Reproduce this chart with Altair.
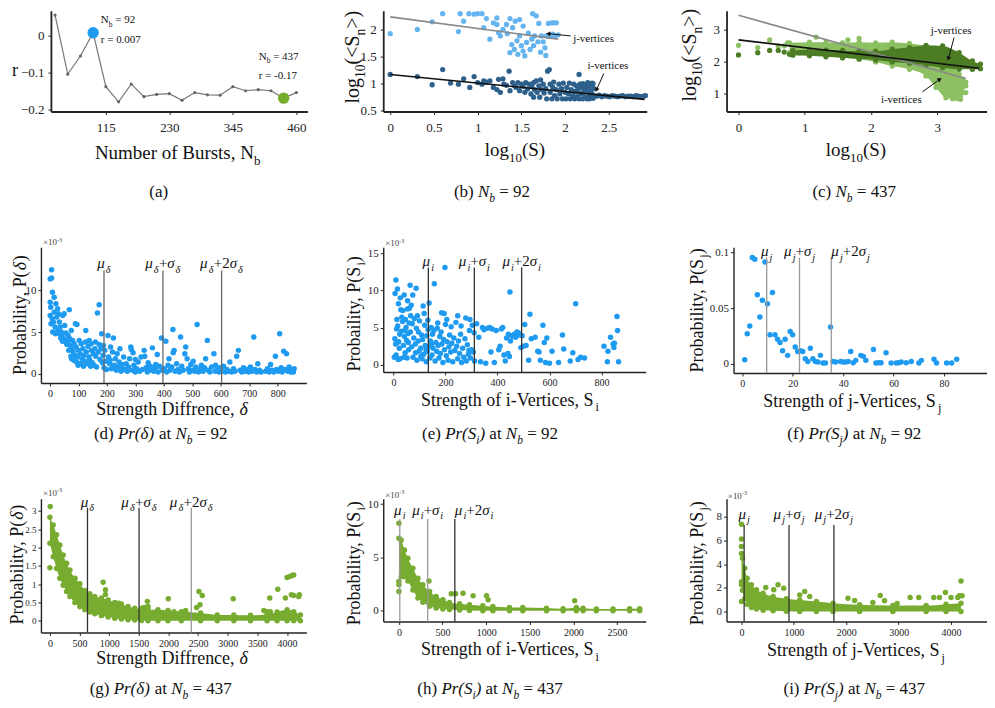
import math
import altair as alt
import pandas as pd

FONT = "Liberation Serif"
BLUE = "#1E9BF0"
GREEN = "#77AC30"
B_LIGHT = "#64B4F0"
B_DARK = "#2E608C"
G_LIGHT = "#8CC063"
G_DARK = "#4C7C23"

# ===================== DATA =====================
# (a) correlation r versus number of bursts
a_nb = [23, 46, 69, 92, 115, 138, 161, 184, 207, 230, 253, 276, 299, 322, 345, 368, 391, 414, 437, 460]
a_r = [0.055, -0.105, -0.056, 0.007, -0.139, -0.180, -0.132, -0.166, -0.160, -0.158,
       -0.176, -0.155, -0.161, -0.162, -0.139, -0.150, -0.147, -0.150, -0.170, -0.155]
a_hl_nb = [92, 437]
a_hl_r = [0.007, -0.17]

# (b) log10(<S_n>) vs log10(S), N_b = 92
b_j_pts = [(0, 1.92), (0.31, 2.0), (0.6, 2.29), (0.8, 2.29), (0.48, 2.14), (0.78, 1.96), (0.84, 2.15), (0.9, 2.29),
           (0.96, 2.28), (1.0, 2.29), (1.05, 2.29), (1.1, 2.2), (1.07, 2.03), (1.14, 1.82), (1.18, 2.12), (1.22, 2.09),
           (1.24, 1.94), (1.26, 1.88), (1.29, 2.0), (1.34, 1.92), (1.37, 2.2), (1.4, 2.03), (1.43, 2.15), (1.39, 1.72),
           (1.37, 1.57), (1.42, 1.63), (1.45, 1.79), (1.46, 1.54), (1.48, 1.88), (1.5, 1.7), (1.52, 1.6), (1.54, 1.51),
           (1.56, 1.76), (1.58, 1.93), (1.6, 1.63), (1.62, 1.82), (1.64, 1.7), (1.65, 1.88), (1.52, 2.06), (1.48, 2.18),
           (1.63, 2.29), (1.67, 2.25), (1.7, 2.11), (1.69, 1.77), (1.72, 1.58), (1.75, 1.77), (1.77, 1.66), (1.78, 1.52),
           (1.73, 1.88), (1.79, 1.88), (1.81, 2.11), (1.85, 2.12), (1.87, 2.12), (1.9, 2.12), (1.83, 1.88), (1.86, 1.91),
           (1.89, 1.88), (1.92, 1.9), (1.33, 2.09), (1.22, 2.21)]
b_i_pts = [(0, 1.17), (0.31, 1.13), (0.48, 0.98), (0.6, 1.26), (0.69, 1.01), (0.78, 0.99), (0.84, 1.09), (0.91, 0.93),
           (0.96, 1.13), (1.0, 1.02), (1.05, 0.99), (1.07, 1.05), (1.1, 1.03), (1.14, 1.05), (1.18, 0.93), (1.22, 0.89),
           (1.24, 1.08), (1.26, 0.84), (1.29, 1.09), (1.3, 0.99), (1.33, 0.97), (1.36, 1.23), (1.37, 0.87), (1.4, 1.02),
           (1.42, 0.96), (1.44, 0.93), (1.46, 1.02), (1.48, 0.87), (1.5, 0.99), (1.52, 0.95), (1.54, 0.84), (1.55, 1.02),
           (1.57, 0.9), (1.59, 0.99), (1.61, 0.81), (1.62, 0.96), (1.64, 0.75), (1.64, 1.02), (1.65, 0.89), (1.67, 1.05),
           (1.68, 0.84), (1.7, 0.96), (1.71, 0.75), (1.72, 1.07), (1.73, 0.89), (1.75, 0.99), (1.76, 0.83), (1.78, 0.91),
           (1.79, 0.72), (1.8, 1.23), (1.82, 1.26), (1.83, 0.99), (1.83, 0.84), (1.85, 0.72), (1.86, 0.93), (1.87, 1.03),
           (1.88, 0.78), (1.9, 0.89), (1.91, 0.72), (1.93, 0.99), (1.94, 0.81), (1.96, 0.91), (1.97, 0.72), (1.98, 1.01),
           (2.0, 0.84), (2.01, 0.72), (2.02, 0.93), (2.04, 0.81), (2.05, 1.01), (2.06, 0.72), (2.07, 0.89), (2.09, 0.78),
           (2.1, 0.99), (2.11, 0.72), (2.12, 0.86), (2.13, 0.96), (2.14, 0.76), (2.15, 0.89), (2.16, 0.72), (2.17, 0.99),
           (2.18, 0.81), (2.19, 0.93), (2.2, 0.72), (2.21, 0.84), (2.21, 0.96), (2.23, 0.75), (2.23, 0.89), (2.24, 0.99),
           (2.25, 0.72), (2.25, 0.86), (2.26, 0.93), (2.26, 1.02), (2.28, 0.78), (2.28, 0.72), (2.29, 0.87), (2.3, 0.96),
           (2.31, 1.01), (2.31, 0.81), (2.32, 0.73), (2.33, 0.91), (2.16, 1.17), (2.2, 1.0), (2.3, 0.99), (2.32, 1.0),
           (2.36, 0.77), (2.39, 0.79), (2.42, 0.76), (2.45, 0.78), (2.48, 0.77), (2.51, 0.76), (2.54, 0.78), (2.57, 0.77),
           (2.6, 0.76), (2.63, 0.77), (2.66, 0.78), (2.69, 0.76), (2.72, 0.77), (2.75, 0.77), (2.78, 0.76), (2.81, 0.78),
           (2.84, 0.77), (2.87, 0.76), (2.9, 0.77), (2.92, 0.78)]
b_fit_j = [(0.0, 2.23), (1.92, 1.82)]
b_fit_i = [(0.0, 1.17), (2.91, 0.71)]

# (c) N_b = 437 ; dense clouds given as (x, upper, lower) envelopes plus loose points
c_i_band = [(0.77, 2.58, 2.27), (1.07, 2.6, 2.22), (1.32, 2.6, 2.17), (1.57, 2.58, 2.11), (1.82, 2.6, 2.06),
            (2.07, 2.58, 1.98), (2.32, 2.6, 1.85), (2.58, 2.56, 1.75), (2.83, 2.48, 1.54), (2.98, 2.38, 1.18),
            (3.13, 2.17, 0.86), (3.23, 1.91, 0.83), (3.33, 1.59, 0.83), (3.38, 1.44, 1.02), (3.43, 1.35, 1.23)]
c_i_pts = [(0, 2.5), (0.29, 2.43), (0.47, 2.67), (0.6, 2.48), (0.69, 2.48), (0.74, 2.58), (0.87, 2.5), (1.17, 2.76),
           (1.65, 2.67), (1.82, 2.72), (3.18, 1.31), (3.23, 0.92), (3.28, 0.84), (3.35, 0.92), (3.35, 0.81), (3.43, 1.02)]
c_j_band = [(0.82, 2.34, 2.19), (1.07, 2.35, 2.17), (1.32, 2.35, 2.14), (1.57, 2.34, 2.11), (1.82, 2.32, 2.08),
            (2.07, 2.32, 2.04), (2.32, 2.38, 1.98), (2.58, 2.43, 1.94), (2.83, 2.5, 1.88), (3.08, 2.48, 1.8),
            (3.33, 2.27, 1.75), (3.53, 2.01, 1.75), (3.65, 1.91, 1.77)]
c_j_pts = [(0, 2.2), (0.29, 2.27), (0.47, 2.34), (0.6, 2.34), (0.69, 2.29), (0.77, 2.22), (0.92, 2.27)]
c_fit_gray = [(0.0, 3.44), (3.43, 1.46)]
c_fit_black = [(0.0, 2.67), (3.63, 1.78)]

# (d) P(delta) x10^-3, N_b = 92
d_pts = [(1, 11.4), (6, 12.5), (6, 11.5), (9, 9.8), (15, 9.2), (1, 8.6), (21, 8.4), (3, 8.0), (27, 7.8), (15, 7.4),
         (1, 7.0), (8, 6.6), (12, 6.2), (4, 6.0), (18, 5.6), (24, 6.8), (28, 5.2), (10, 5.0), (20, 4.8), (30, 7.2),
         (33, 6.2), (36, 5.6), (40, 5.0), (42, 4.6), (45, 7.0), (48, 4.2), (50, 7.2), (52, 5.8), (55, 4.0), (58, 3.7),
         (38, 4.3), (44, 3.9), (56, 4.9), (60, 3.5), (35, 4.8), (64, 4.6), (68, 7.7), (70, 4.2), (72, 3.4), (75, 5.2),
         (78, 3.0), (80, 4.0), (82, 2.6), (85, 3.6), (88, 2.2), (90, 6.0), (92, 3.2), (95, 5.9), (97, 2.0), (100, 2.8),
         (66, 2.8), (74, 2.1), (84, 1.6), (94, 1.4), (99, 1.0), (62, 3.9), (76, 1.8), (103, 4.0), (106, 2.4), (110, 3.6),
         (113, 1.8), (116, 3.0), (120, 2.2), (123, 1.5), (126, 5.2), (128, 2.6), (131, 1.2), (134, 3.3), (137, 2.0),
         (140, 1.6), (143, 0.9), (146, 2.8), (149, 1.3), (108, 1.2), (118, 0.9), (138, 4.0), (125, 3.8), (145, 3.6),
         (152, 2.4), (155, 1.0), (158, 3.0), (161, 2.1), (164, 0.8), (167, 7.3), (170, 2.6), (173, 8.3), (173, 3.5),
         (176, 1.7), (179, 3.0), (182, 4.8), (184, 1.3), (187, 2.2), (190, 0.7), (193, 2.8), (196, 1.5), (199, 0.5),
         (160, 3.8), (188, 3.4), (204, 4.6), (206, 2.0), (210, 1.2), (213, 3.2), (216, 0.6), (220, 2.6), (223, 4.3),
         (226, 1.0), (230, 1.8), (233, 0.4), (236, 2.4), (240, 0.8), (243, 1.4), (246, 3.0), (250, 0.3), (253, 1.1),
         (256, 0.6), (259, 2.0), (212, 1.6), (228, 0.9), (264, 0.5), (268, 1.2), (272, 0.3), (276, 0.8), (280, 1.8),
         (284, 3.2), (286, 2.9), (290, 0.4), (295, 1.0), (300, 0.2), (305, 0.6), (310, 1.4), (315, 0.3), (320, 2.0),
         (325, 0.5), (331, 2.8), (333, 2.1), (338, 0.7), (342, 0.2), (348, 1.0), (352, 0.4), (356, 0.8), (360, 3.1),
         (365, 0.3), (370, 0.6), (377, 2.3), (380, 0.2), (385, 0.9), (392, 4.3), (395, 0.4), (300, 1.7), (292, 2.5),
         (345, 1.3), (372, 1.1), (402, 0.6), (407, 3.9), (410, 0.2), (415, 1.0), (418, 1.8), (422, 0.4), (428, 0.8),
         (432, 5.3), (433, 2.5), (436, 2.8), (440, 0.3), (445, 1.2), (450, 0.5), (455, 0.2), (459, 4.4), (463, 0.9),
         (468, 0.4), (474, 2.4), (477, 3.2), (482, 1.8), (486, 0.6), (490, 0.2), (495, 1.1), (500, 0.4), (503, 1.5),
         (508, 0.3), (512, 0.8), (517, 5.9), (522, 0.2), (527, 0.6), (532, 1.0), (538, 0.3), (543, 0.7), (547, 1.8),
         (553, 4.0), (556, 0.4), (562, 0.2), (568, 0.8), (576, 2.4), (580, 0.3), (582, 1.0), (588, 0.5), (594, 0.2),
         (598, 0.7), (604, 0.3), (610, 0.9), (616, 0.2), (622, 0.5), (628, 0.3), (632, 1.4), (638, 0.2), (645, 0.6),
         (650, 0.3), (656, 2.1), (662, 2.8), (668, 0.4), (674, 0.2), (680, 0.7), (686, 0.3), (692, 0.5), (698, 0.2),
         (704, 0.8), (710, 0.3), (716, 4.4), (720, 0.5), (726, 0.2), (730, 1.2), (736, 0.4), (742, 0.2), (758, 0.3),
         (764, 0.6), (770, 0.2), (775, 1.1), (780, 0.4), (786, 0.2), (792, 2.1), (796, 0.5), (802, 0.3), (807, 4.8),
         (812, 0.7), (816, 0.2), (821, 2.7), (825, 0.5), (831, 2.4), (836, 0.3), (840, 0.8), (846, 0.2), (850, 0.5),
         (855, 0.2), (858, 0.6)]
d_mu = [190, 397, 603]

# (e) P(S_i) x10^-3, N_b = 92
e_pts = [(6, 9.6), (9, 11.4), (15, 10.2), (19, 8.2), (26, 9.0), (13, 6.1), (32, 6.4), (28, 7.4), (41, 9.4), (54, 8.6),
         (54, 7.5), (61, 7.6), (5, 3.5), (8, 2.8), (10, 1.3), (12, 4.8), (16, 5.2), (20, 3.1), (22, 2.2), (25, 0.8),
         (30, 4.5), (35, 5.8), (38, 2.6), (42, 3.8), (45, 1.6), (48, 5.0), (50, 3.3), (52, 0.9), (56, 4.2), (58, 2.0),
         (3, 1.0), (18, 0.7), (40, 1.0), (60, 5.6), (46, 6.1), (36, 7.3), (24, 4.1), (14, 3.0), (44, 4.6), (57, 3.0),
         (64, 10.7), (68, 8.0), (74, 9.4), (87, 10.3), (92, 6.6), (114, 7.9), (118, 6.9), (137, 8.3), (65, 4.4),
         (70, 2.4), (72, 5.5), (75, 1.0), (78, 3.6), (80, 6.2), (84, 2.8), (88, 4.9), (90, 0.6), (95, 3.2), (98, 1.8),
         (100, 5.9), (104, 2.2), (108, 4.0), (110, 0.8), (112, 3.4), (116, 1.4), (120, 5.3), (122, 2.6), (126, 0.4),
         (128, 3.9), (130, 1.8), (133, 4.7), (136, 2.4), (140, 0.9), (142, 3.2), (145, 5.0), (148, 1.3), (85, 1.6),
         (105, 1.1), (125, 2.0), (146, 2.8), (66, 6.6), (96, 4.4), (132, 6.0), (150, 4.1), (157, 10.9), (198, 13.1),
         (195, 6.9), (247, 6.6), (294, 6.1), (152, 2.2), (155, 4.6), (160, 0.5), (163, 3.0), (166, 1.8), (170, 5.6),
         (172, 2.6), (175, 0.9), (178, 3.8), (180, 1.5), (183, 4.4), (186, 2.8), (190, 0.3), (193, 3.4), (196, 2.0),
         (200, 5.4), (203, 1.2), (206, 3.1), (210, 0.6), (213, 2.4), (216, 4.0), (220, 1.7), (224, 2.9), (228, 0.4),
         (232, 3.6), (236, 1.9), (240, 5.7), (243, 2.5), (247, 0.8), (250, 3.2), (254, 1.5), (258, 4.1), (262, 0.3),
         (266, 2.2), (270, 1.0), (275, 3.5), (280, 0.5), (284, 2.7), (288, 1.4), (292, 4.6), (296, 0.9), (300, 2.0),
         (185, 7.0), (205, 6.1), (168, 4.9), (222, 5.1), (260, 5.2), (278, 6.3), (290, 1.9), (303, 5.3), (307, 1.7),
         (312, 0.5), (320, 5.5), (328, 3.7), (335, 0.4), (342, 5.0), (348, 4.7), (355, 0.2), (362, 4.9), (370, 5.0),
         (375, 1.7), (380, 4.8), (388, 0.3), (395, 4.6), (405, 2.0), (410, 2.5), (415, 4.8), (420, 5.0), (425, 1.3),
         (430, 0.5), (435, 3.6), (448, 9.8), (442, 4.1), (446, 1.1), (450, 3.2), (455, 3.9), (460, 3.8), (465, 4.1),
         (470, 3.7), (475, 4.4), (480, 4.3), (485, 4.0), (490, 2.3), (495, 3.9), (500, 2.5), (310, 4.3), (440, 1.5),
         (505, 5.4), (510, 2.6), (520, 0.6), (525, 6.8), (530, 3.5), (545, 3.7), (555, 1.8), (560, 1.7), (565, 0.6),
         (575, 5.3), (580, 3.0), (585, 0.3), (590, 3.6), (600, 0.2), (610, 1.8), (635, 0.3), (650, 4.0), (655, 2.1),
         (680, 0.5), (690, 1.6), (701, 8.2), (710, 0.7), (720, 1.0), (735, 0.9), (810, 2.5), (823, 0.4), (825, 1.8),
         (835, 3.7), (845, 2.8), (848, 2.3), (850, 2.9), (860, 6.5), (862, 4.6), (866, 0.4)]
e_mu = [134, 311, 493]

# (f) P(S_j), N_b = 92
f_pts = [(1, 0.0036), (2, 0.027), (3, 0.034), (4, 0.0955), (5, 0.094), (6, 0.062), (7, 0.042), (8, 0.057),
         (9, 0.0916), (10, 0.054), (11, 0.026), (12, 0.064), (13, 0.026), (14, 0.022), (15, 0.019), (16, 0.0116),
         (17, 0.022), (18, 0.0075), (19, 0.029), (20, 0.026), (21, 0.015), (22, 0.011), (23, 0.0116), (24, 0.011),
         (25, 0.0045), (26, 0.002), (27, 0.014), (28, 0.0045), (29, 0.002), (30, 0.0015), (31, 0.0075), (32, 0.0006),
         (33, 0.0006), (35, 0.033), (36, 0.002), (37, 0.0015), (39, 0.002), (40, 0.0015), (41, 0.0015), (42, 0.002),
         (43, 0.011), (44, 0.0009), (45, 0.003), (47, 0.0075), (48, 0.0066), (49, 0.003), (52, 0.0128), (53, 0.0006),
         (54, 0.0009), (55, 0.0009), (57, 0.0099), (59, 0.0006), (61, 0.0006), (62, 0.0009), (63, 0.0015),
         (65, 0.0009), (67, 0.002), (70, 0.0006), (71, 0.003), (76, 0.004), (77, 0.0006), (81, 0.0006), (83, 0.0006),
         (85, 0.004)]
f_mu = [9.7, 22.7, 35.3]

# (g) P(delta) x10^-3, N_b = 437 : dense band (x, upper, lower) plus loose points
g_band = [(0, 2.83, 2.12), (56, 2.62, 1.75), (112, 2.35, 1.43), (168, 2.07, 1.16), (224, 1.80, 0.97), (281, 1.57, 0.80),
          (337, 1.39, 0.66), (421, 1.16, 0.50), (505, 1.01, 0.38), (589, 0.83, 0.30), (673, 0.74, 0.24),
          (757, 0.66, 0.19), (870, 0.62, 0.14), (982, 0.57, 0.10), (1094, 0.50, 0.07), (1206, 0.46, 0.05),
          (1318, 0.39, 0.03), (1431, 0.34, 0.02), (1543, 0.32, 0.01), (1655, 0.30, 0.0), (1823, 0.30, 0.0),
          (1992, 0.28, 0.0), (2216, 0.25, 0.0), (2542, 0.21, 0.0), (2823, 0.16, 0.0), (3103, 0.16, 0.0),
          (3384, 0.15, 0.0), (3664, 0.18, 0.0), (3833, 0.24, 0.0), (4001, 0.30, 0.0), (4113, 0.25, 0.0),
          (4226, 0.16, 0.0)]
g_pts = [(5, 3.12), (0, 1.45), (140, 2.07), (421, 1.15), (898, 1.05), (937, 0.85), (937, 0.72), (1161, 0.48),
         (1560, 0.35), (1599, 0.36), (1644, 0.53), (1655, 0.39), (1998, 0.6), (2093, 0.25), (2290, 0.28),
         (2475, 0.36), (2514, 0.8), (2531, 0.44), (2570, 0.69), (3092, 0.6), (3608, 0.28), (3664, 0.25),
         (3709, 0.62), (3720, 0.25), (3844, 0.86), (3973, 0.62), (4001, 1.18), (4046, 1.21), (4085, 1.24),
         (4113, 1.25), (4074, 0.71), (4113, 0.69), (4197, 0.66), (4208, 0.71)]
g_mu = [634, 1504, 2385]

# (h) P(S_i) x10^-3, N_b = 437
h_band = [(0, 6.79, 2.74), (26, 6.63, 3.2), (64, 5.7, 3.2), (103, 4.92, 2.8), (160, 3.98, 1.95), (218, 3.05, 1.2),
          (275, 2.43, 0.8), (351, 1.8, 0.42), (427, 1.34, 0.25), (504, 1.03, 0.16), (580, 0.78, 0.12),
          (695, 0.65, 0.08), (809, 0.56, 0.03), (962, 0.47, 0.0), (1077, 0.4, 0.0), (1268, 0.31, 0.0),
          (1420, 0.31, 0.0), (1691, 0.25, 0.0), (1882, 0.19, 0.0), (2034, 0.31, 0.0), (2111, 0.25, 0.0),
          (2263, 0.16, 0.0), (2454, 0.16, 0.0), (2645, 0.19, 0.0), (2760, 0.2, 0.0)]
h_pts = [(0, 8.2), (0, 2.43), (0, 1.8), (344, 2.8), (600, 1.6), (650, 1.6), (735, 1.65), (850, 1.4), (1004, 1.4),
         (1023, 1.03), (2015, 0.93)]
h_mu = [10, 330, 641]

# (i) P(S_j) x10^-3, N_b = 437
i_band = [(0, 4.9, 2.5), (19, 4.5, 1.8), (63, 3.65, 1.1), (108, 2.8, 0.6), (190, 2.25, 0.34), (286, 1.83, 0.2),
          (413, 1.54, 0.1), (603, 1.26, 0.06), (857, 1.07, 0.02), (1111, 0.96, 0.0), (1429, 0.84, 0.0),
          (1746, 0.7, 0.0), (2254, 0.56, 0.0), (2889, 0.5, 0.0), (3524, 0.5, 0.0), (3905, 0.62, 0.0), (4190, 0.7, 0.0)]
i_pts = [(0, 7.36), (0, 6.12), (0, 5.48), (0, 0.84), (0, 2.25), (463, 2.02), (616, 1.83), (698, 2.25), (806, 1.97),
         (1111, 1.4), (1206, 1.69), (1302, 1.26), (2032, 1.12), (2159, 0.93), (2508, 0.76), (2648, 1.35),
         (2730, 0.9), (2971, 0.67), (3219, 1.18), (3384, 1.18), (3670, 1.18), (3778, 1.18), (3892, 1.6),
         (4000, 1.18), (4127, 1.18), (4159, 1.32), (4190, 2.58), (4210, 1.32)]
i_mu = [50, 907, 1764]

# ===================== HELPERS =====================
WN = {' ': 250, '(': 333, ')': 333, '+': 564, ',': 250, '-': 333, '.': 250, '=': 564, '<': 564, '>': 564,
      '×': 564, 'A': 722, 'B': 667, 'D': 722, 'N': 722, 'P': 556, 'S': 556, 'V': 722, 'a': 444, 'b': 500,
      'c': 444, 'd': 500, 'e': 444, 'f': 333, 'g': 500, 'h': 500, 'i': 278, 'j': 278, 'l': 278, 'm': 778,
      'n': 500, 'o': 500, 'p': 500, 'r': 333, 's': 389, 't': 278, 'u': 500, 'v': 500, 'x': 500, 'y': 500,
      'δ': 500, 'μ': 576, 'σ': 550}
WI = {'N': 667, 'P': 611, 'r': 389, 'S': 500, 'b': 500, 'i': 278, 'j': 278}


def text_w(s, fs, it):
    return sum((WI[ch] if (it and ch in WI) else WN.get(ch, 500)) for ch in s) * fs / 1000.0


def rich(segs, x, y, size, anchor="middle", angle=0, color="#111111"):
    parts = []
    for t, k in segs:
        fs = size * 0.68 if k in ("s", "si", "p") else size
        it = k in ("i", "si")
        parts.append((t, k, fs, it, text_w(t, fs, it)))
    total = sum(p[4] for p in parts)
    adv = {"start": 0.0, "middle": -total / 2.0, "end": -total}[anchor]
    rows = []
    for t, k, fs, it, w in parts:
        off = 0.3 * size if k in ("s", "si") else (-0.4 * size if k == "p" else 0.0)
        lead = len(t) - len(t.lstrip(" "))
        a = adv + text_w(" " * lead, fs, it)
        if angle == 0:
            px, py = x + a, y + off
        else:
            px, py = x + off, y - a
        if t.strip(" "):
            rows.append({"t": t.strip(" "), "px": px, "py": py, "fs": fs, "it": 1 if it else 0,
                         "ang": angle, "col": color})
        adv += w
    return rows


def text_layers(rows):
    df = pd.DataFrame(rows)
    out = []
    for it, style in ((0, "normal"), (1, "italic")):
        sub = df[df["it"] == it]
        if len(sub):
            out.append(alt.Chart(sub).mark_text(align="left", baseline="alphabetic", font=FONT, fontStyle=style).encode(
                x=alt.X("px:Q", scale=None), y=alt.Y("py:Q", scale=None),
                text=alt.Text("t:N"), size=alt.Size("fs:Q", scale=None, legend=None),
                angle=alt.Angle("ang:Q", scale=None), color=alt.Color("col:N", scale=None, legend=None)))
    return out


def make_axis(vals, fs, pad, dw, offset=None):
    kw = dict(values=vals, format="~f", title=None, grid=False, labelFont=FONT, labelFontSize=fs,
              labelPadding=pad, labelColor="#222", domainColor="#222", domainWidth=dw, tickColor="#222",
              tickSize=3, labelFlush=False, labelOverlap=False)
    if offset is not None:
        kw["offset"] = offset
    return alt.Axis(**kw)


def scale(dom, rng=None):
    if rng:
        return alt.Scale(domain=dom, range=rng, nice=False, zero=False)
    return alt.Scale(domain=dom, nice=False, zero=False)


def XE(field, P):
    return alt.X(field + ":Q", scale=scale(P["xd"], P.get("xr")),
                 axis=make_axis(P["xt"], P["xfs"], P["xpad"], P["dw"]))


def YE(field, P):
    return alt.Y(field + ":Q", scale=scale(P["yd"]),
                 axis=make_axis(P["yt"], P["yfs"], P["ypad"], P["dw"], P.get("yoff")))


def px_of(v, P):
    r0, r1 = P.get("xr") or [0, P["W"]]
    d0, d1 = P["xd"]
    return r0 + (v - d0) / (d1 - d0) * (r1 - r0)


def scatter(pts, color, size, P):
    df = pd.DataFrame(pts, columns=["x", "y"])
    return alt.Chart(df).mark_circle(size=size, color=color, opacity=1).encode(x=XE("x", P), y=YE("y", P))


def band(triples, color, size, P):
    df = pd.DataFrame(triples, columns=["x", "hi", "lo"])
    area = alt.Chart(df).mark_area(color=color, opacity=1, interpolate="monotone").encode(
        x=XE("x", P), y=YE("hi", P), y2=alt.Y2("lo"))
    edge = [(t[0], t[1]) for t in triples] + [(t[0], t[2]) for t in triples]
    return [area, scatter(edge, color, size, P)]


def fit_line(pts, color, P):
    df = pd.DataFrame(pts, columns=["x", "y"])
    return alt.Chart(df).mark_line(color=color, strokeWidth=1.6).encode(x=XE("x", P), y=YE("y", P))


def mu_rules(mus, top, colors, P):
    df = pd.DataFrame({"mu": mus, "top": [top] * len(mus), "bot": [P["yd"][0]] * len(mus), "c": colors})
    return alt.Chart(df).mark_rule(strokeWidth=1.3).encode(
        x=XE("mu", P), y=YE("top", P), y2=alt.Y2("bot"), color=alt.Color("c:N", scale=None, legend=None))


def mu_label_rows(mus, base, sym, P, size=15, last_left=False):
    labels = [[("μ", "i"), (sym, "si")],
              [("μ", "i"), (sym, "si"), ("+", "n"), ("σ", "i"), (sym, "si")],
              [("μ", "i"), (sym, "si"), ("+2", "n"), ("σ", "i"), (sym, "si")]]
    rows = []
    for n, (m, segs) in enumerate(zip(mus, labels)):
        anchor = "start" if (last_left and n == 2) else "middle"
        rows += rich(segs, px_of(m, P), base, size, anchor)
    return rows


def arrows(segs):
    df = pd.DataFrame(segs, columns=["x0", "y0", "x1", "y1"])
    df["a"] = [math.degrees(math.atan2(r.x1 - r.x0, -(r.y1 - r.y0))) % 360 for r in df.itertuples()]
    line = alt.Chart(df).mark_rule(color="#111", strokeWidth=1).encode(
        x=alt.X("x0:Q", scale=None), y=alt.Y("y0:Q", scale=None), x2="x1:Q", y2="y1:Q")
    head = alt.Chart(df).mark_point(shape="triangle-up", filled=True, size=24, color="#111", opacity=1).encode(
        x=alt.X("x1:Q", scale=None), y=alt.Y("y1:Q", scale=None), angle=alt.Angle("a:Q", scale=None))
    return [line, head]


def caption(letter, what, nb):
    segs = [("(" + letter + ") ", "n")]
    if what == "d":
        segs += [("Pr(δ)", "i"), (" at ", "n")]
    elif what in ("i", "j"):
        segs += [("Pr(S", "i"), (what, "si"), (")", "i"), (" at ", "n")]
    segs += [("N", "i"), ("b", "si"), (" = " + nb, "n")]
    return segs


def x103(x, y):
    return rich([("×10", "n"), ("-3", "p")], x, y, 9, "start", color="#444444")


LOG_Y = [("log", "n"), ("10", "s"), ("(<S", "n"), ("n", "s"), (">)", "n")]
LOG_X = [("log", "n"), ("10", "s"), ("(S)", "n")]
P_D = [("Probability, P(", "n"), ("δ", "i"), (")", "n")]
X_D = [("Strength Diffrence, ", "n"), ("δ", "i")]
X_I = [("Strength of i-Vertices, S", "n"), ("i", "s")]
X_J = [("Strength of j-Vertices, S", "n"), ("j", "s")]

# ===================== PANELS =====================
rowA = dict(xfs=13, yfs=13, xpad=7, ypad=4, dw=1.8)
rowBC = dict(xfs=10, yfs=11, xpad=3, ypad=2, dw=1.4)

# (a)
PA = dict(W=267, H=101, xd=[15.5, 480], xr=[10, 267], yd=[-0.2062, 0.0668], xt=[115, 230, 345, 460],
          yt=[-0.2, -0.1, 0], yoff=-10, **rowA)
a_df = pd.DataFrame({"nb": a_nb, "r": a_r})
a_hl = pd.DataFrame({"nb": a_hl_nb, "r": a_hl_r, "c": [BLUE, GREEN]})
a_txt = (rich([("r", "n")], -26, 65, 18)
         + rich([("Number of Bursts, ", "n"), ("N", "n"), ("b", "s")], 137, 148.7, 19)
         + rich([("(a)", "n")], 118, 187, 17)
         + rich([("N", "n"), ("b", "s"), (" = 92", "n")], 60, 12.7, 11, "start")
         + rich([("r = 0.007", "n")], 60, 32, 11, "start")
         + rich([("N", "n"), ("b", "s"), (" = 437", "n")], 218.3, 49.3, 11, "start")
         + rich([("r = -0.17", "n")], 218.3, 68.7, 11, "start"))
panel_a = alt.layer(
    alt.Chart(a_df).mark_line(color="#777", strokeWidth=1.2).encode(x=XE("nb", PA), y=YE("r", PA)),
    alt.Chart(a_df).mark_circle(size=10, color="#666", opacity=1).encode(x=XE("nb", PA), y=YE("r", PA)),
    alt.Chart(a_hl).mark_circle(size=130, opacity=1).encode(x=XE("nb", PA), y=YE("r", PA),
                                                             color=alt.Color("c:N", scale=None, legend=None)),
    *text_layers(a_txt)
).properties(width=PA["W"], height=PA["H"])

# (b)
PB = dict(W=264, H=101, xd=[-0.0799, 2.934], yd=[0.487, 2.344], xt=[0, 0.5, 1, 1.5, 2, 2.5],
          yt=[0.5, 1, 1.5, 2], **rowA)
b_txt = (rich(LOG_Y, -24, 93, 20, "start", angle=270) + rich(LOG_X, 132, 146, 19)
         + rich(caption("b", "", "92"), 109, 187, 17)
         + rich([("j-vertices", "n")], 190.3, 31.5, 11, "start")
         + rich([("i-vertices", "n")], 204.7, 58.5, 11, "start"))
panel_b = alt.layer(
    scatter(b_j_pts, B_LIGHT, 28, PB),
    scatter(b_i_pts, B_DARK, 28, PB),
    fit_line(b_fit_j, "#888888", PB),
    fit_line(b_fit_i, "#111111", PB),
    *arrows([(187.7, 25.3, 165.3, 23.0), (221.0, 63.0, 213.7, 79.3)]),
    *text_layers(b_txt)
).properties(width=PB["W"], height=PB["H"])

# (c)
PC = dict(W=261, H=101, xd=[-0.1807, 3.75], yd=[0.428, 3.584], xt=[0, 1, 2, 3], yt=[1, 2, 3], **rowA)
c_txt = (rich(LOG_Y, -31, 91, 20, "start", angle=270) + rich(LOG_X, 129.7, 146, 19)
         + rich(caption("c", "", "437"), 128, 187, 17)
         + rich([("j-vertices", "n")], 204.7, 23, 11, "start")
         + rich([("i-vertices", "n")], 154.7, 92.8, 11, "start"))
panel_c = alt.layer(
    scatter(c_i_pts, G_LIGHT, 28, PC),
    *band(c_i_band, G_LIGHT, 28, PC),
    *band(c_j_band, G_DARK, 28, PC),
    scatter(c_j_pts, G_DARK, 28, PC),
    fit_line(c_fit_gray, "#888888", PC),
    fit_line(c_fit_black, "#111111", PC),
    *arrows([(228, 27, 222.3, 48), (196.3, 81.3, 213.7, 68.7)]),
    *text_layers(c_txt)
).properties(width=PC["W"], height=PC["H"])

# (d)
PD = dict(W=267, H=136, xd=[-31.5, 900.8], xr=[0, 266], yd=[-1.12, 15.21], xt=[0, 100, 200, 300, 400, 500, 600, 700, 800],
          yt=[0, 5, 10], **rowBC)
d_txt = (x103(2, -2) + rich(P_D, -15, 68, 18, angle=270) + rich(X_D, 131.7, 167.7, 18)
         + rich(caption("d", "d", "92"), 120, 192, 17) + mu_label_rows(d_mu, 21, "δ", PD))
panel_d = alt.layer(
    scatter(d_pts, BLUE, 30, PD),
    mu_rules(d_mu, 12.4, ["#666666"] * 3, PD),
    *text_layers(d_txt)
).properties(width=PD["W"], height=PD["H"])

# (e)
PE = dict(W=264, H=125, xd=[-39.6, 970.4], xr=[0, 263], yd=[-0.98, 15.82], xt=[0, 200, 400, 600, 800],
          yt=[0, 5, 10, 15], **rowBC)
e_txt = (x103(2, -1) + rich([("Probaility, P(S", "n"), ("i", "s"), (")", "n")], -23.7, 66.7, 18, angle=270)
         + rich(X_I, 127, 159, 18) + rich(caption("e", "i", "92"), 107, 192, 17)
         + mu_label_rows(e_mu, 19.3, "i", PE))
panel_e = alt.layer(
    scatter(e_pts, BLUE, 30, PE),
    mu_rules(e_mu, 13.1, ["#333333"] * 3, PE),
    *text_layers(e_txt)
).properties(width=PE["W"], height=PE["H"])

# (f)
PF = dict(W=261, H=126, xd=[-3.44, 97.0], xr=[7, 261], yd=[-0.00833, 0.1048], xt=[0, 20, 40, 60, 80],
          yt=[0, 0.05, 0.1], yoff=-7, **rowBC)
f_txt = (rich([("Probability, P(S", "n"), ("j", "s"), (")", "n")], -23.7, 63.3, 18, angle=270)
         + rich(X_J, 126, 160, 18) + rich(caption("f", "j", "92"), 128, 192, 17)
         + mu_label_rows(f_mu, 9, "j", PF, last_left=True))
panel_f = alt.layer(
    scatter(f_pts, BLUE, 30, PF),
    mu_rules(f_mu, 0.0955, ["#999999"] * 3, PF),
    *text_layers(f_txt)
).properties(width=PF["W"], height=PF["H"])

# (g)
PG = dict(W=267, H=134, xd=[-151.5, 4327], xr=[0, 266], yd=[-0.319, 3.335],
          xt=[0, 500, 1000, 1500, 2000, 2500, 3000, 3500, 4000], yt=[0, 0.5, 1, 1.5, 2, 2.5, 3],
          xfs=10, yfs=9, xpad=3, ypad=2, dw=1.4)
g_txt = (x103(2, -3) + rich(P_D, -18, 66, 18, angle=270) + rich(X_D, 131.7, 165.7, 18)
         + rich(caption("g", "d", "437"), 120, 196, 17) + mu_label_rows(g_mu, 8, "δ", PG))
panel_g = alt.layer(
    scatter(g_pts, GREEN, 30, PG),
    *band(g_band, GREEN, 30, PG),
    mu_rules(g_mu, 3.09, ["#333333", "#333333", "#999999"], PG),
    *text_layers(g_txt)
).properties(width=PG["W"], height=PG["H"])

# (h)
PH = dict(W=264, H=123, xd=[-179.8, 2829], xr=[0, 263], yd=[-1.0, 10.5], xt=[0, 500, 1000, 1500, 2000, 2500],
          yt=[0, 5, 10], **rowBC)
h_txt = (x103(2, -1) + rich([("Probability, P(S", "n"), ("i", "s"), (")", "n")], -23.7, 64.7, 18, angle=270)
         + rich(X_I, 127, 157, 18) + rich(caption("h", "i", "437"), 107, 196, 17)
         + mu_label_rows(h_mu, 16.3, "i", PH, last_left=True))
panel_h = alt.layer(
    scatter(h_pts, GREEN, 30, PH),
    *band(h_band, GREEN, 30, PH),
    mu_rules(h_mu, 8.6, ["#999999", "#999999", "#333333"], PH),
    *text_layers(h_txt)
).properties(width=PH["W"], height=PH["H"])

# (i)
PI = dict(W=261, H=123, xd=[-285.7, 4686], yd=[-0.842, 9.516], xt=[0, 1000, 2000, 3000, 4000],
          yt=[0, 2, 4, 6, 8], **rowBC)
i_txt = (x103(1.3, 0) + rich([("Probability, P(S", "n"), ("j", "s"), (")", "n")], -23.7, 64.7, 18, angle=270)
         + rich(X_J, 129.7, 158, 18) + rich(caption("i", "j", "437"), 128, 196, 17)
         + mu_label_rows(i_mu, 20.3, "j", PI))
panel_i = alt.layer(
    scatter(i_pts, GREEN, 30, PI),
    *band(i_band, GREEN, 30, PI),
    mu_rules(i_mu, 7.3, ["#333333"] * 3, PI),
    *text_layers(i_txt)
).properties(width=PI["W"], height=PI["H"])


# ===================== LAYOUT =====================
def spacer(w, h):
    return alt.Chart(pd.DataFrame({"v": [0]})).mark_point(opacity=0, size=1).encode(
        x=alt.value(1), y=alt.value(1)).properties(width=w, height=h)


cells = ([spacer(32, 1), panel_a, spacer(76, 1), panel_b, spacer(80, 1), panel_c]
         + [spacer(1, 136) for _ in range(6)]
         + [spacer(32, 1), panel_d, spacer(76, 1), panel_e, spacer(80, 1), panel_f]
         + [spacer(1, 116) for _ in range(6)]
         + [spacer(32, 1), panel_g, spacer(76, 1), panel_h, spacer(80, 1), panel_i])

chart = alt.concat(*cells, columns=6, spacing=0, bounds="flush", align="each").properties(
    padding=0).configure_view(strokeWidth=0)

chart.save("out.html", embed_options={"renderer": "svg", "actions": False})
